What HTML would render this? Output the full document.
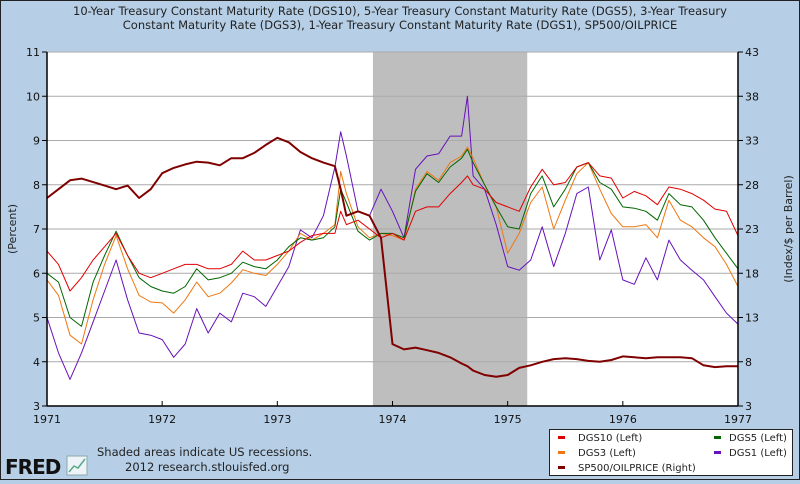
<!DOCTYPE html>
<html><head><meta charset="utf-8"><style>
html,body{margin:0;padding:0}
body{width:800px;height:480px;overflow:hidden;background:#b6cfe6;font-family:"DejaVu Sans","Liberation Sans",sans-serif}
svg text{font-family:"DejaVu Sans","Liberation Sans",sans-serif}
</style></head><body>
<svg id="chart" width="800" height="480" viewBox="0 0 800 480" xmlns="http://www.w3.org/2000/svg">
<rect x="0.5" y="0.5" width="799" height="479" fill="#b6cfe6" stroke="#222"/>
<text x="400" y="15" text-anchor="middle" font-size="11.5" fill="#222">10-Year Treasury Constant Maturity Rate (DGS10), 5-Year Treasury Constant Maturity Rate (DGS5), 3-Year Treasury</text>
<text x="400" y="29" text-anchor="middle" font-size="11.5" fill="#222">Constant Maturity Rate (DGS3), 1-Year Treasury Constant Maturity Rate (DGS1), SP500/OILPRICE</text>
<text transform="translate(16,229) rotate(-90)" text-anchor="middle" font-size="11" fill="#222">(Percent)</text>
<text transform="translate(792,229) rotate(-90)" text-anchor="middle" font-size="11" fill="#222">(Index/$ per Barrel)</text>
<rect x="47" y="52" width="691" height="354" fill="#fff"/>
<g id="grid"></g>
<g id="series"></g>
<g id="axes"></g>
<text x="97" y="456" font-size="11.5" fill="#222">Shaded areas indicate US recessions.</text>
<text x="125" y="471" font-size="11.5" fill="#222">2012 research.stlouisfed.org</text>
<g>
<text x="5" y="474" font-size="20" font-weight="bold" fill="#111" font-family="Liberation Sans" letter-spacing="-1">FRED</text>
<rect x="67" y="456" width="20" height="19" fill="#eef3f8" stroke="#8aa"/>
<polyline points="69,472 74,466 78,468 85,459" fill="none" stroke="#5a8" stroke-width="1.5"/>
</g>
<g>
<rect x="549.5" y="429.5" width="243" height="46" fill="#fff" stroke="#222"/>
<rect x="558" y="436" width="7" height="3" fill="#e00000"/>
<text x="578" y="441" font-size="10" fill="#222">DGS10 (Left)</text>
<rect x="714" y="436" width="7" height="3" fill="#006600"/>
<text x="729" y="441" font-size="10" fill="#222">DGS5 (Left)</text>
<rect x="558" y="451" width="7" height="3" fill="#ee7711"/>
<text x="578" y="456" font-size="10" fill="#222">DGS3 (Left)</text>
<rect x="714" y="451" width="7" height="3" fill="#6611bb"/>
<text x="729" y="456" font-size="10" fill="#222">DGS1 (Left)</text>
<rect x="558" y="466" width="7" height="3" fill="#800000"/>
<text x="578" y="471" font-size="10" fill="#222">SP500/OILPRICE (Right)</text>
</g>
</svg>
<script>
const dates = [1971.0,1971.1,1971.2,1971.3,1971.4,1971.5,1971.6,1971.7,1971.8,1971.9,
1972.0,1972.1,1972.2,1972.3,1972.4,1972.5,1972.6,1972.7,1972.8,1972.9,
1973.0,1973.1,1973.2,1973.3,1973.4,1973.5,1973.55,1973.6,1973.7,1973.8,1973.9,
1974.0,1974.1,1974.2,1974.3,1974.4,1974.5,1974.6,1974.65,1974.7,1974.8,1974.9,
1975.0,1975.1,1975.2,1975.3,1975.4,1975.5,1975.6,1975.7,1975.8,1975.9,
1976.0,1976.1,1976.2,1976.3,1976.4,1976.5,1976.6,1976.7,1976.8,1976.9,1977.0];
const dgs10 = [6.5,6.2,5.6,5.9,6.3,6.6,6.9,6.4,6.0,5.9,
6.0,6.1,6.2,6.2,6.1,6.1,6.2,6.5,6.3,6.3,
6.4,6.5,6.7,6.85,6.9,6.9,7.4,7.1,7.2,7.0,6.8,
6.9,6.75,7.4,7.5,7.5,7.8,8.05,8.2,8.0,7.9,7.6,
7.5,7.4,7.95,8.35,8.0,8.05,8.4,8.5,8.2,8.15,
7.7,7.85,7.75,7.55,7.95,7.9,7.8,7.65,7.45,7.4,6.85];
const dgs5 = [6.0,5.8,5.0,4.8,5.8,6.4,6.95,6.4,5.9,5.7,
5.6,5.55,5.7,6.1,5.85,5.9,6.0,6.25,6.15,6.1,
6.3,6.6,6.8,6.75,6.8,7.05,7.9,7.6,6.95,6.75,6.9,
6.9,6.8,7.85,8.25,8.05,8.4,8.6,8.8,8.5,8.0,7.5,
7.05,7.0,7.8,8.2,7.5,7.9,8.4,8.5,8.05,7.9,
7.5,7.47,7.4,7.2,7.8,7.55,7.5,7.2,6.8,6.45,6.1];
const dgs3 = [5.85,5.5,4.6,4.4,5.4,6.2,6.85,6.1,5.5,5.35,
5.33,5.1,5.4,5.8,5.47,5.55,5.78,6.08,6.0,5.95,
6.2,6.5,6.9,6.75,6.9,7.1,8.3,7.8,7.05,6.8,6.9,
6.85,6.75,7.9,8.3,8.1,8.5,8.65,8.85,8.6,8.0,7.5,
6.45,6.9,7.6,7.95,7.0,7.65,8.25,8.5,7.9,7.35,
7.05,7.05,7.1,6.8,7.65,7.2,7.05,6.8,6.6,6.2,5.7];
const dgs1 = [5.0,4.2,3.6,4.2,4.9,5.6,6.3,5.4,4.65,4.6,
4.5,4.1,4.4,5.2,4.65,5.1,4.9,5.55,5.47,5.25,
5.7,6.15,6.98,6.8,7.3,8.4,9.2,8.65,7.4,7.3,7.9,
7.4,6.8,8.35,8.65,8.7,9.1,9.1,10.0,8.2,7.9,7.1,
6.15,6.07,6.3,7.05,6.15,6.9,7.8,7.95,6.3,6.98,
5.85,5.75,6.35,5.85,6.75,6.3,6.07,5.85,5.47,5.1,4.85];
const spOil = [26.5,27.5,28.5,28.7,28.3,27.9,27.5,27.9,26.5,27.5,
29.3,29.9,30.3,30.6,30.5,30.2,31.0,31.0,31.6,32.5,
33.3,32.8,31.7,31.0,30.5,30.1,27.5,24.5,25.0,24.5,22.0,
10.0,9.4,9.6,9.3,9.0,8.5,7.8,7.5,7.0,6.5,6.3,
6.5,7.3,7.6,8.0,8.3,8.4,8.3,8.1,8.0,8.2,
8.6,8.5,8.4,8.5,8.5,8.5,8.4,7.6,7.4,7.5,7.5];
const leftTicks = [3,4,5,6,7,8,9,10,11];
const rightTicks = [3,8,13,18,23,28,33,38,43];
const yearTicks = [1971,1972,1973,1974,1975,1976,1977];
const recession = [1973.83,1975.17];

const X0=47,X1=738,Y0=406,Y1=52;
function xs(t){return X0+(t-1971)/(1977-1971)*(X1-X0);}
function yl(v){return Y0-(v-3)/(11-3)*(Y0-Y1);}
function yr(v){return Y0-(v-3)/(43-3)*(Y0-Y1);}
const NS="http://www.w3.org/2000/svg";
function mk(tag,attrs,parent){const e=document.createElementNS(NS,tag);for(const k in attrs)e.setAttribute(k,attrs[k]);parent.appendChild(e);return e;}
const grid=document.getElementById('grid'),ser=document.getElementById('series'),ax=document.getElementById('axes');

const rec=mk('rect',{x:xs(recession[0]),y:Y1,width:xs(recession[1])-xs(recession[0]),height:Y0-Y1,fill:'#bebebe'},grid);


leftTicks.forEach(v=>{
  if(v===3)return;
  const g=mk('line',{x1:X0,x2:X1,y1:yl(v),y2:yl(v),stroke:'#aaaaaa','stroke-width':1},grid);
  
  
});
function line(arr,scale,color,w,name){
  const p=mk('polyline',{points:arr.map((v,i)=>xs(dates[i]).toFixed(1)+','+scale(v).toFixed(1)).join(' '),fill:'none',stroke:color,'stroke-width':w,'stroke-linejoin':'round'},ser);
  
  
}
line(dgs1,yl,'#6611bb',1,'series-dgs1');
line(dgs3,yl,'#ee7711',1,'series-dgs3');
line(dgs5,yl,'#006600',1,'series-dgs5');
line(dgs10,yl,'#e00000',1,'series-dgs10');
line(spOil,yr,'#800000',2,'series-sp500-oilprice');

mk('line',{x1:X0,x2:X0,y1:Y1,y2:Y0,stroke:'#000','stroke-width':1.5},ax);
mk('line',{x1:X1,x2:X1,y1:Y1,y2:Y0,stroke:'#000','stroke-width':1.5},ax);
mk('line',{x1:X0,x2:X1,y1:Y0,y2:Y0,stroke:'#000','stroke-width':1.5},ax);
leftTicks.forEach(v=>{
  mk('line',{x1:X0-5,x2:X0,y1:yl(v),y2:yl(v),stroke:'#000'},ax);
  const t=mk('text',{x:X0-7,y:yl(v)+4,'text-anchor':'end','font-size':11,fill:'#111'},ax);
  t.textContent=v;
  
  
});
rightTicks.forEach(v=>{
  mk('line',{x1:X1,x2:X1+5,y1:yr(v),y2:yr(v),stroke:'#000'},ax);
  const t=mk('text',{x:X1+7,y:yr(v)+4,'font-size':11,fill:'#111'},ax);
  t.textContent=v;
  
  
});
yearTicks.forEach(v=>{
  mk('line',{x1:xs(v),x2:xs(v),y1:Y0-5,y2:Y0,stroke:'#000'},ax);
  const t=mk('text',{x:xs(v),y:Y0+17,'text-anchor':'middle','font-size':11,fill:'#111'},ax);
  t.textContent=v;
  
  
});
</script>
</body></html>
